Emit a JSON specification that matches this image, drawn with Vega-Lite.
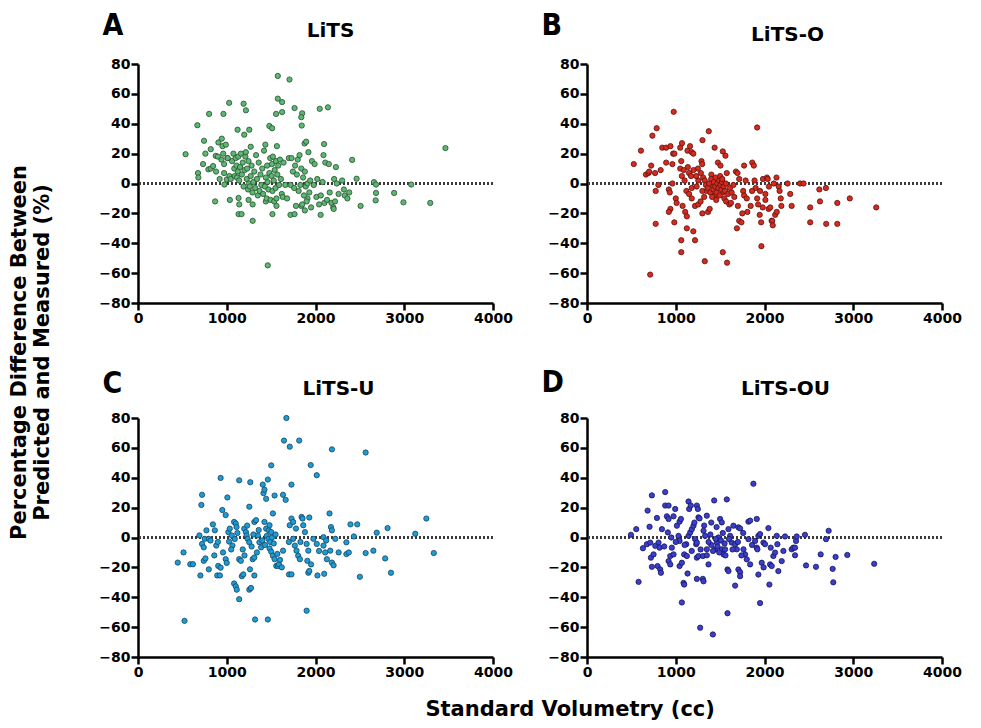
{
"$schema": "https://vega.github.io/schema/vega-lite/v6.json",
"background": "white",
"padding": {"left": 8, "top": 10, "right": 5, "bottom": 5},
"config": {
  "view": {"stroke": null},
  "axis": {"domainColor": "#000", "domainWidth": 2.5, "tickColor": "#000", "tickWidth": 2.5, "tickSize": 7, "labelFont": "DejaVu Sans", "labelFontSize": 14, "labelFontWeight": "bold", "labelColor": "#000", "labelPadding": 1, "grid": false, "labelFlush": false, "labelOverlap": false, "titleFontWeight": "bold", "titleColor": "#000", "titleAngle": 0, "titleBaseline": "alphabetic", "titlePadding": 0},
  "axisX": {"titleFont": "DejaVu Sans", "titleFontSize": 20, "titleAlign": "center", "format": "d"},
  "axisY": {"titleFont": "'Liberation Sans Narrow', 'DejaVu Sans Condensed', sans-serif", "titleFontSize": 30, "titleAlign": "left"}
},
"datasets": {
"lits": [
{"volume":536,"diff":19.6},{"volume":669,"diff":39},{"volume":676,"diff":7},{"volume":680,"diff":4},{"volume":744,"diff":28.6},{"volume":759,"diff":20},{"volume":733,"diff":13},{"volume":801,"diff":46.6},{"volume":820,"diff":23},{"volume":869,"diff":-12},{"volume":876,"diff":18.5},{"volume":793,"diff":9.5},{"volume":820,"diff":10},{"volume":846,"diff":11.7},{"volume":906,"diff":27.5},{"volume":944,"diff":30},{"volume":952,"diff":25},{"volume":963,"diff":46.6},{"volume":990,"diff":26},{"volume":970,"diff":13},{"volume":974,"diff":-0.7},{"volume":970,"diff":7},{"volume":1027,"diff":54},{"volume":1008,"diff":17},{"volume":1001,"diff":2.7},{"volume":1035,"diff":-11},{"volume":1122,"diff":36},{"volume":1133,"diff":-9.7},{"volume":1141,"diff":-14},{"volume":1133,"diff":-20.5},{"volume":1167,"diff":-20.5},{"volume":1190,"diff":53.4},{"volume":1216,"diff":49},{"volume":1197,"diff":32.7},{"volume":1254,"diff":36},{"volume":1246,"diff":-11},{"volume":1292,"diff":-14},{"volume":1292,"diff":-25},{"volume":1270,"diff":24.6},{"volume":1435,"diff":26},{"volume":1462,"diff":-54.8},{"volume":1480,"diff":38.5},{"volume":1511,"diff":37},{"volume":1515,"diff":-20.5},{"volume":1575,"diff":72},{"volume":1575,"diff":56.8},{"volume":1624,"diff":54.5},{"volume":1556,"diff":46.6},{"volume":1624,"diff":47.8},{"volume":1707,"diff":69.6},{"volume":1718,"diff":-21},{"volume":1764,"diff":50.5},{"volume":1764,"diff":-20.5},{"volume":1845,"diff":38.8},{"volume":1850,"diff":47},{"volume":1840,"diff":44.4},{"volume":1877,"diff":26.8},{"volume":1895,"diff":28},{"volume":2048,"diff":50},{"volume":2140,"diff":51},{"volume":2058,"diff":-21},{"volume":2097,"diff":26.4},{"volume":2413,"diff":15.8},{"volume":2463,"diff":3.2},{"volume":2508,"diff":-15},{"volume":2659,"diff":0.9},{"volume":2682,"diff":-0.7},{"volume":2682,"diff":-6.3},{"volume":2678,"diff":-11.3},{"volume":2886,"diff":-6.3},{"volume":2991,"diff":-12.6},{"volume":3078,"diff":-0.7},{"volume":3293,"diff":-13},{"volume":3464,"diff":23.7},{"volume":1565,"diff":25},{"volume":1440,"diff":-12},{"volume":1560,"diff":-15},{"volume":1840,"diff":-15},{"volume":1910,"diff":-10},{"volume":1880,"diff":-18},
{"volume":880,"diff":8},{"volume":920,"diff":3},{"volume":940,"diff":16},{"volume":960,"diff":20},{"volume":900,"diff":18},
{"volume":1010,"diff":17},{"volume":1030,"diff":5},{"volume":1045,"diff":3},{"volume":1060,"diff":15},{"volume":1075,"diff":20},{"volume":1085,"diff":10},{"volume":1090,"diff":5},{"volume":1100,"diff":17},{"volume":1110,"diff":12},{"volume":1115,"diff":4},{"volume":1125,"diff":8},{"volume":1130,"diff":18},{"volume":1140,"diff":2},{"volume":1150,"diff":11},{"volume":1160,"diff":20},{"volume":1170,"diff":6},{"volume":1180,"diff":14},{"volume":1190,"diff":-2},{"volume":1200,"diff":9},{"volume":1210,"diff":18},{"volume":1215,"diff":21},{"volume":1225,"diff":3},{"volume":1230,"diff":10},{"volume":1240,"diff":-4},{"volume":1245,"diff":15},{"volume":1250,"diff":0},
{"volume":1260,"diff":-2},{"volume":1270,"diff":5},{"volume":1280,"diff":12},{"volume":1290,"diff":-6},{"volume":1300,"diff":1},{"volume":1310,"diff":8},{"volume":1320,"diff":-3},{"volume":1330,"diff":19},{"volume":1340,"diff":3},{"volume":1350,"diff":-8},{"volume":1360,"diff":14},{"volume":1370,"diff":-5},{"volume":1380,"diff":6},{"volume":1390,"diff":-1},{"volume":1400,"diff":10},{"volume":1410,"diff":-7},{"volume":1420,"diff":22},{"volume":1430,"diff":-2},{"volume":1440,"diff":4},{"volume":1450,"diff":-10},{"volume":1455,"diff":12},{"volume":1460,"diff":1},{"volume":1470,"diff":-4},{"volume":1480,"diff":7},{"volume":1490,"diff":17},{"volume":1495,"diff":-11},
{"volume":1505,"diff":5},{"volume":1510,"diff":13},{"volume":1515,"diff":-5},{"volume":1520,"diff":18},{"volume":1530,"diff":2},{"volume":1535,"diff":-12},{"volume":1540,"diff":9},{"volume":1550,"diff":-3},{"volume":1555,"diff":15},{"volume":1560,"diff":-10},{"volume":1570,"diff":6},{"volume":1580,"diff":12},{"volume":1590,"diff":-1},{"volume":1600,"diff":16},{"volume":1610,"diff":3},{"volume":1620,"diff":-7},{"volume":1630,"diff":-9},{"volume":1640,"diff":14},{"volume":1660,"diff":-1},{"volume":1680,"diff":-10},{"volume":1700,"diff":17},{"volume":1720,"diff":-1},{"volume":1730,"diff":17},{"volume":1745,"diff":8},
{"volume":1760,"diff":-3},{"volume":1770,"diff":12},{"volume":1780,"diff":-15},{"volume":1790,"diff":6},{"volume":1800,"diff":16},{"volume":1810,"diff":-5},{"volume":1820,"diff":19},{"volume":1830,"diff":-1},{"volume":1840,"diff":10},{"volume":1850,"diff":-14},{"volume":1860,"diff":4},{"volume":1870,"diff":-8},{"volume":1880,"diff":8},{"volume":1890,"diff":-2},{"volume":1900,"diff":-12},{"volume":1910,"diff":0},{"volume":1920,"diff":21},{"volume":1930,"diff":-6},{"volume":1940,"diff":2},{"volume":1950,"diff":-16},{"volume":1960,"diff":15},{"volume":1980,"diff":-1},{"volume":1990,"diff":13},
{"volume":2010,"diff":-9},{"volume":2020,"diff":3},{"volume":2040,"diff":-14},{"volume":2060,"diff":-8},{"volume":2080,"diff":1},{"volume":2090,"diff":19},{"volume":2100,"diff":-13},{"volume":2110,"diff":14},{"volume":2130,"diff":-11},{"volume":2150,"diff":13},{"volume":2160,"diff":-6},{"volume":2180,"diff":-13},{"volume":2200,"diff":-16},{"volume":2205,"diff":-17},{"volume":2210,"diff":3},{"volume":2220,"diff":-12},{"volume":2230,"diff":11},{"volume":2240,"diff":0},{"volume":2260,"diff":-7},{"volume":2300,"diff":2},{"volume":2320,"diff":-4},{"volume":2330,"diff":-8},{"volume":2360,"diff":-10},{"volume":2380,"diff":-6}
],
"litsO": [
{"volume":527,"diff":13},{"volume":608,"diff":22},{"volume":664,"diff":6},{"volume":693,"diff":7},{"volume":700,"diff":8},{"volume":737,"diff":32},{"volume":723,"diff":12},{"volume":774,"diff":-27},{"volume":712,"diff":-61},{"volume":785,"diff":37},{"volume":774,"diff":-5},{"volume":804,"diff":-1},{"volume":767,"diff":7},{"volume":848,"diff":24},{"volume":892,"diff":24},{"volume":830,"diff":9},{"volume":892,"diff":14},{"volume":940,"diff":25},{"volume":922,"diff":-4},{"volume":933,"diff":-6},{"volume":940,"diff":-17},{"volume":922,"diff":-19},{"volume":977,"diff":48},{"volume":970,"diff":20},{"volume":985,"diff":20},{"volume":962,"diff":13},{"volume":962,"diff":0},{"volume":984,"diff":-26},{"volume":1000,"diff":-10},{"volume":1010,"diff":-13},{"volume":1050,"diff":24},{"volume":1070,"diff":27},{"volume":1050,"diff":10},{"volume":1069,"diff":5},{"volume":1062,"diff":15},{"volume":1062,"diff":-38},{"volume":1062,"diff":-46},{"volume":1077,"diff":-15},{"volume":1106,"diff":-19},{"volume":1125,"diff":-22},{"volume":1125,"diff":-30},{"volume":1132,"diff":22},{"volume":1161,"diff":25},{"volume":1180,"diff":21},{"volume":1198,"diff":20},{"volume":1136,"diff":11},{"volume":1150,"diff":7},{"volume":1172,"diff":5},{"volume":1198,"diff":-32},{"volume":1217,"diff":-38},{"volume":1180,"diff":-10},{"volume":1217,"diff":-15},{"volume":1254,"diff":-14},{"volume":1235,"diff":-2},{"volume":1254,"diff":2},{"volume":1283,"diff":7},{"volume":1301,"diff":29},{"volume":1290,"diff":15},{"volume":1298,"diff":13},{"volume":1309,"diff":4},{"volume":1327,"diff":2},{"volume":1346,"diff":-5},{"volume":1327,"diff":-52},{"volume":1364,"diff":-19},{"volume":1382,"diff":-17},{"volume":1372,"diff":35},{"volume":1401,"diff":6},{"volume":1420,"diff":-2},{"volume":1438,"diff":-8},{"volume":1456,"diff":-11},{"volume":1438,"diff":24},{"volume":1475,"diff":14},{"volume":1504,"diff":12},{"volume":1530,"diff":21.5},{"volume":1560,"diff":18.6},{"volume":1530,"diff":-46},{"volume":1578,"diff":-53},{"volume":1512,"diff":-3},{"volume":1530,"diff":-6},{"volume":1548,"diff":-10},{"volume":1567,"diff":-12},{"volume":1604,"diff":-14},{"volume":1622,"diff":-13},{"volume":1678,"diff":8},{"volume":1696,"diff":7},{"volume":1715,"diff":3},{"volume":1689,"diff":-30},{"volume":1715,"diff":-25},{"volume":1740,"diff":-26},{"volume":1770,"diff":12},{"volume":1788,"diff":2},{"volume":1760,"diff":-5},{"volume":1770,"diff":-8},{"volume":1800,"diff":-10},{"volume":1807,"diff":-19},{"volume":1844,"diff":-15},{"volume":1862,"diff":14},{"volume":1880,"diff":12},{"volume":1888,"diff":2},{"volume":1917,"diff":37.5},{"volume":1900,"diff":-3},{"volume":1917,"diff":-10},{"volume":1928,"diff":-14},{"volume":1946,"diff":-21},{"volume":1962,"diff":-26},{"volume":1965,"diff":-42},{"volume":1983,"diff":3},{"volume":2028,"diff":4},{"volume":2036,"diff":3},{"volume":2010,"diff":-7},{"volume":2010,"diff":-11},{"volume":2047,"diff":-17},{"volume":2065,"diff":-16},{"volume":2080,"diff":-25},{"volume":2105,"diff":0},{"volume":2135,"diff":4},{"volume":2087,"diff":-25},{"volume":2093,"diff":-28},{"volume":2120,"diff":-21},{"volume":2138,"diff":-19},{"volume":2160,"diff":-2},{"volume":2170,"diff":-5},{"volume":2183,"diff":-10},{"volume":2190,"diff":-15},{"volume":2260,"diff":0},{"volume":2290,"diff":-7},{"volume":2306,"diff":-15},{"volume":2400,"diff":0},{"volume":2440,"diff":0},{"volume":2515,"diff":-16},{"volume":2515,"diff":-26},{"volume":2618,"diff":-4},{"volume":2625,"diff":-12},{"volume":2692,"diff":-3},{"volume":2695,"diff":-27},{"volume":2820,"diff":-13},{"volume":2820,"diff":-27},{"volume":2961,"diff":-10},{"volume":3259,"diff":-16},
{"volume":1340,"diff":-1},{"volume":1360,"diff":-3},{"volume":1375,"diff":0},{"volume":1390,"diff":-6},{"volume":1400,"diff":3},{"volume":1410,"diff":-9},{"volume":1425,"diff":-4},{"volume":1430,"diff":1},{"volume":1445,"diff":-2},{"volume":1450,"diff":4},{"volume":1460,"diff":-6},{"volume":1470,"diff":0},{"volume":1480,"diff":-3},{"volume":1490,"diff":2},{"volume":1495,"diff":-8},{"volume":1500,"diff":5},{"volume":1505,"diff":-1},{"volume":1515,"diff":-4},{"volume":1520,"diff":1},{"volume":1525,"diff":3},{"volume":1540,"diff":-2},{"volume":1555,"diff":-5},{"volume":1565,"diff":0},{"volume":1575,"diff":7},{"volume":1590,"diff":-7},{"volume":1610,"diff":-3},{"volume":1630,"diff":-6},{"volume":1650,"diff":-1},{"volume":1660,"diff":-9},{"volume":1280,"diff":-12},{"volume":1300,"diff":-5},{"volume":1320,"diff":-9},{"volume":1250,"diff":10},{"volume":1230,"diff":5},{"volume":1200,"diff":9},{"volume":1180,"diff":-3},{"volume":1100,"diff":2},{"volume":1090,"diff":9},{"volume":1120,"diff":-5},{"volume":1150,"diff":-7},{"volume":1300,"diff":-20},{"volume":1700,"diff":-15},{"volume":1750,"diff":-20},{"volume":1860,"diff":-5},{"volume":1950,"diff":-5},{"volume":1980,"diff":-16},{"volume":2050,"diff":-2}
],
"litsU": [
{"volume":448,"diff":-16.8},{"volume":513,"diff":-10},{"volume":524,"diff":-55.8},{"volume":589,"diff":-17.9},{"volume":619,"diff":-17.9},{"volume":692,"diff":1.4},{"volume":703,"diff":-25.4},{"volume":722,"diff":28.6},{"volume":714,"diff":21.8},{"volume":722,"diff":-4.3},{"volume":741,"diff":-6.6},{"volume":752,"diff":-0.9},{"volume":771,"diff":4.8},{"volume":741,"diff":-15.6},{"volume":760,"diff":-14},{"volume":798,"diff":-21.3},{"volume":798,"diff":-0.9},{"volume":817,"diff":-2},{"volume":844,"diff":8.8},{"volume":866,"diff":4.8},{"volume":882,"diff":-5.4},{"volume":893,"diff":-25.4},{"volume":923,"diff":-25.4},{"volume":904,"diff":-19},{"volume":931,"diff":-20.2},{"volume":931,"diff":39.9},{"volume":950,"diff":18.4},{"volume":958,"diff":-10},{"volume":988,"diff":-14.5},{"volume":988,"diff":15},{"volume":1007,"diff":26.8},{"volume":1018,"diff":3.6},{"volume":1034,"diff":5.9},{"volume":1056,"diff":1.4},{"volume":1026,"diff":-2.7},{"volume":1064,"diff":-5.4},{"volume":1083,"diff":10.4},{"volume":1102,"diff":9.3},{"volume":1110,"diff":7},{"volume":1083,"diff":-30.8},{"volume":1102,"diff":-32.7},{"volume":1113,"diff":-34.9},{"volume":1140,"diff":38.3},{"volume":1140,"diff":-41.3},{"volume":1140,"diff":-14.5},{"volume":1159,"diff":-15.6},{"volume":1170,"diff":-25.9},{"volume":1186,"diff":-24.7},{"volume":1197,"diff":5.9},{"volume":1216,"diff":3.6},{"volume":1224,"diff":1.4},{"volume":1254,"diff":20.6},{"volume":1265,"diff":37},{"volume":1235,"diff":-0.9},{"volume":1254,"diff":-3.2},{"volume":1254,"diff":-34.9},{"volume":1273,"diff":-33.8},{"volume":1262,"diff":-21.3},{"volume":1292,"diff":-14.5},{"volume":1311,"diff":-13.4},{"volume":1311,"diff":10.4},{"volume":1330,"diff":11.6},{"volume":1319,"diff":-54.9},{"volume":1311,"diff":-25.4},{"volume":1349,"diff":1.4},{"volume":1368,"diff":-3.2},{"volume":1387,"diff":-6.6},{"volume":1406,"diff":35.4},{"volume":1414,"diff":29.7},{"volume":1425,"diff":32},{"volume":1444,"diff":25.9},{"volume":1463,"diff":38.8},{"volume":1463,"diff":-54.9},{"volume":1425,"diff":10.4},{"volume":1444,"diff":5.9},{"volume":1474,"diff":4.8},{"volume":1482,"diff":8.2},{"volume":1501,"diff":3.6},{"volume":1482,"diff":-7.3},{"volume":1501,"diff":-9.5},{"volume":1520,"diff":-12.2},{"volume":1539,"diff":-14.5},{"volume":1558,"diff":-19},{"volume":1501,"diff":48.3},{"volume":1520,"diff":16.1},{"volume":1539,"diff":28.1},{"volume":1577,"diff":-19},{"volume":1588,"diff":-17.9},{"volume":1634,"diff":28.6},{"volume":1664,"diff":25.2},{"volume":1634,"diff":-8.8},{"volume":1672,"diff":80},{"volume":1645,"diff":64.9},{"volume":1710,"diff":60.8},{"volume":1729,"diff":35.4},{"volume":1702,"diff":-24.7},{"volume":1729,"diff":-24.7},{"volume":1710,"diff":8.2},{"volume":1729,"diff":12.7},{"volume":1748,"diff":10.4},{"volume":1748,"diff":-0.9},{"volume":1767,"diff":-5.4},{"volume":1786,"diff":-8.8},{"volume":1816,"diff":64.9},{"volume":1805,"diff":-12.2},{"volume":1824,"diff":-14.5},{"volume":1843,"diff":13.8},{"volume":1854,"diff":12.7},{"volume":1862,"diff":8.2},{"volume":1881,"diff":3.6},{"volume":1900,"diff":-49},{"volume":1900,"diff":-4.3},{"volume":1919,"diff":-8.8},{"volume":1908,"diff":-15.6},{"volume":1919,"diff":-23.6},{"volume":1930,"diff":-22.4},{"volume":1930,"diff":13.4},{"volume":1946,"diff":48.5},{"volume":2014,"diff":41.7},{"volume":1976,"diff":-0.9},{"volume":2014,"diff":-4.3},{"volume":2022,"diff":-25.4},{"volume":2090,"diff":0.2},{"volume":2090,"diff":-5.4},{"volume":2109,"diff":-10},{"volume":2128,"diff":-14.5},{"volume":2098,"diff":-24.3},{"volume":2158,"diff":16.1},{"volume":2185,"diff":59},{"volume":2174,"diff":7},{"volume":2185,"diff":4.8},{"volume":2166,"diff":-8.8},{"volume":2185,"diff":-16.8},{"volume":2204,"diff":-18.6},{"volume":2223,"diff":-0.9},{"volume":2261,"diff":-10},{"volume":2348,"diff":-3.2},{"volume":2348,"diff":-11.1},{"volume":2375,"diff":-10},{"volume":2394,"diff":8.8},{"volume":2470,"diff":8.8},{"volume":2432,"diff":0.7},{"volume":2500,"diff":-26.3},{"volume":2565,"diff":56.9},{"volume":2565,"diff":-10.4},{"volume":2652,"diff":-8.8},{"volume":2690,"diff":3.2},{"volume":2785,"diff":-14},{"volume":2812,"diff":6.3},{"volume":2850,"diff":-23.6},{"volume":3124,"diff":2.5},{"volume":3249,"diff":12.7},{"volume":3333,"diff":-10.4},
{"volume":1050,"diff":-8},{"volume":1090,"diff":-1},{"volume":1120,"diff":3},{"volume":1180,"diff":-8},{"volume":1200,"diff":-12},{"volume":1230,"diff":8},{"volume":1280,"diff":-6},{"volume":1300,"diff":2},{"volume":1340,"diff":-10},{"volume":1360,"diff":5},{"volume":1400,"diff":-2},{"volume":1430,"diff":-5},{"volume":1450,"diff":1},{"volume":1470,"diff":-1},{"volume":1490,"diff":-3},{"volume":1510,"diff":0},{"volume":1530,"diff":-4},{"volume":1550,"diff":2},{"volume":1570,"diff":-11},{"volume":1600,"diff":-15},{"volume":1620,"diff":-20},{"volume":1700,"diff":-3},{"volume":1780,"diff":6},{"volume":1830,"diff":-3},{"volume":1950,"diff":-18},{"volume":2040,"diff":-9},{"volume":2120,"diff":-2},{"volume":860,"diff":-12},{"volume":900,"diff":-3},{"volume":1000,"diff":-17}
],
"litsOU": [
{"volume":495,"diff":1.8},{"volume":555,"diff":5.6},{"volume":581,"diff":-29.7},{"volume":630,"diff":-7.2},{"volume":675,"diff":-4.5},{"volume":713,"diff":-3.4},{"volume":683,"diff":18},{"volume":705,"diff":7.2},{"volume":731,"diff":28.2},{"volume":720,"diff":-13.5},{"volume":731,"diff":-19.6},{"volume":750,"diff":-11.3},{"volume":769,"diff":-5.6},{"volume":788,"diff":13.1},{"volume":795,"diff":-19.1},{"volume":825,"diff":-21.4},{"volume":806,"diff":-3.4},{"volume":818,"diff":-6.8},{"volume":833,"diff":-23.6},{"volume":844,"diff":5.6},{"volume":881,"diff":30.4},{"volume":881,"diff":21.4},{"volume":919,"diff":21.4},{"volume":900,"diff":14.2},{"volume":919,"diff":12.4},{"volume":911,"diff":3.4},{"volume":919,"diff":-15.8},{"volume":938,"diff":-18},{"volume":938,"diff":-12.4},{"volume":956,"diff":-6.8},{"volume":975,"diff":-11.3},{"volume":975,"diff":14.2},{"volume":994,"diff":19.1},{"volume":1013,"diff":7.9},{"volume":1043,"diff":10.6},{"volume":1058,"diff":12.4},{"volume":1031,"diff":1.1},{"volume":1043,"diff":-2.3},{"volume":1043,"diff":-19.1},{"volume":1069,"diff":-16.9},{"volume":1069,"diff":-43.5},{"volume":1088,"diff":-30.4},{"volume":1095,"diff":-31.5},{"volume":1095,"diff":-11.3},{"volume":1125,"diff":-12.4},{"volume":1118,"diff":-4.5},{"volume":1144,"diff":1.1},{"volume":1163,"diff":3.4},{"volume":1133,"diff":-24.1},{"volume":1144,"diff":24.1},{"volume":1151,"diff":19.1},{"volume":1170,"diff":21.4},{"volume":1181,"diff":5.6},{"volume":1200,"diff":7.9},{"volume":1219,"diff":-1.1},{"volume":1230,"diff":-4.5},{"volume":1238,"diff":-3.4},{"volume":1238,"diff":21.4},{"volume":1249,"diff":19.1},{"volume":1256,"diff":13.5},{"volume":1268,"diff":12.8},{"volume":1238,"diff":-13.5},{"volume":1256,"diff":-12.4},{"volume":1305,"diff":-12.4},{"volume":1238,"diff":-27.7},{"volume":1275,"diff":-60.4},{"volume":1305,"diff":-27.7},{"volume":1313,"diff":-29.3},{"volume":1313,"diff":4.5},{"volume":1331,"diff":1.1},{"volume":1350,"diff":-7.9},{"volume":1350,"diff":-11.9},{"volume":1350,"diff":14.6},{"volume":1369,"diff":-18},{"volume":1418,"diff":-64.9},{"volume":1433,"diff":24.8},{"volume":1444,"diff":-7.9},{"volume":1463,"diff":-3.4},{"volume":1481,"diff":0},{"volume":1500,"diff":12.4},{"volume":1519,"diff":10.1},{"volume":1519,"diff":-7.9},{"volume":1538,"diff":-11.3},{"volume":1556,"diff":-7.9},{"volume":1575,"diff":25.5},{"volume":1583,"diff":-21.4},{"volume":1594,"diff":-22.5},{"volume":1583,"diff":-50.7},{"volume":1594,"diff":5.6},{"volume":1613,"diff":1.1},{"volume":1631,"diff":-3.4},{"volume":1650,"diff":7.9},{"volume":1669,"diff":-4.5},{"volume":1669,"diff":-32.2},{"volume":1706,"diff":6.8},{"volume":1725,"diff":6.1},{"volume":1688,"diff":-7.9},{"volume":1706,"diff":-21.4},{"volume":1725,"diff":-23.2},{"volume":1725,"diff":-25.9},{"volume":1763,"diff":-7.9},{"volume":1781,"diff":-11.3},{"volume":1800,"diff":-14.6},{"volume":1819,"diff":10.6},{"volume":1838,"diff":11.3},{"volume":1819,"diff":-1.1},{"volume":1838,"diff":-18},{"volume":1875,"diff":36},{"volume":1894,"diff":-2.3},{"volume":1913,"diff":-6.8},{"volume":1920,"diff":-7.9},{"volume":1913,"diff":12.4},{"volume":1931,"diff":1.1},{"volume":1950,"diff":2.3},{"volume":1931,"diff":-24.8},{"volume":1950,"diff":-43.9},{"volume":1969,"diff":-16.9},{"volume":1988,"diff":-3.4},{"volume":2006,"diff":-4.5},{"volume":2044,"diff":6.3},{"volume":2055,"diff":-31.5},{"volume":2063,"diff":-18},{"volume":2081,"diff":-19.1},{"volume":2070,"diff":-6.8},{"volume":2100,"diff":-12.4},{"volume":2119,"diff":-10.1},{"volume":2138,"diff":1.1},{"volume":2145,"diff":-4.5},{"volume":2156,"diff":-22.5},{"volume":2194,"diff":-15.8},{"volume":2213,"diff":-9},{"volume":2231,"diff":0.7},{"volume":2306,"diff":-7.9},{"volume":2325,"diff":-6.8},{"volume":2344,"diff":-6.8},{"volume":2344,"diff":-11.9},{"volume":2355,"diff":-2.3},{"volume":2363,"diff":0.7},{"volume":2456,"diff":1.8},{"volume":2468,"diff":-18.7},{"volume":2580,"diff":-19.6},{"volume":2633,"diff":-11.3},{"volume":2693,"diff":-1.1},{"volume":2723,"diff":4.5},{"volume":2768,"diff":-21},{"volume":2775,"diff":-30},{"volume":2801,"diff":-13},{"volume":2933,"diff":-11.7},{"volume":3236,"diff":-17.6},
{"volume":1400,"diff":-5},{"volume":1420,"diff":-9},{"volume":1450,"diff":-1},{"volume":1470,"diff":-6},{"volume":1490,"diff":-10},{"volume":1510,"diff":-2},{"volume":1530,"diff":3},{"volume":1550,"diff":-4},{"volume":1560,"diff":-12},{"volume":1600,"diff":-1},{"volume":1640,"diff":-8},{"volume":1700,"diff":-3},{"volume":1740,"diff":-12},{"volume":1760,"diff":3},{"volume":1860,"diff":-5},{"volume":1990,"diff":-20},{"volume":1370,"diff":-3},{"volume":1390,"diff":2},{"volume":1280,"diff":-8},{"volume":1180,"diff":-9},{"volume":1100,"diff":-5},{"volume":1000,"diff":-3},{"volume":950,"diff":0},{"volume":870,"diff":-6},{"volume":1210,"diff":10},{"volume":1320,"diff":8},{"volume":1400,"diff":10},{"volume":1460,"diff":7}
]
},
"title": {"text": "Standard Volumetry (cc)", "orient": "bottom", "anchor": "middle", "font": "DejaVu Sans", "fontSize": 21, "fontWeight": "bold", "color": "#000", "offset": 20, "dx": 85},
"vconcat": [{
  "title": {"text": ["Percentage Difference Between", "Predicted and  Measured (%)"], "orient": "left", "anchor": "middle", "font": "DejaVu Sans", "fontSize": 21, "fontWeight": "bold", "color": "#000", "offset": 46, "lineHeight": 23, "dx": -8},
  "columns": 2,
  "spacing": {"row": 115, "column": 94},
  "bounds": "flush",
  "concat": [
      {"width": 355, "height": 239, "data": {"name": "lits"},
       "layer": [
        {"mark": {"type": "rule", "strokeDash": [2, 2], "strokeWidth": 2, "color": "#3a3a3a"},
         "encoding": {"y": {"datum": 0, "type": "quantitative", "scale": {"domain": [-80, 80], "nice": false}, "axis": {"values": [-80, -60, -40, -20, 0, 20, 40, 60, 80], "title": "A", "titleX": -36, "titleY": -30}}}},
        {"mark": {"type": "point", "filled": true, "fill": "#5cb870", "stroke": "#2a4d33", "strokeWidth": 0.8, "size": 28, "opacity": 1},
         "encoding": {
          "x": {"field": "volume", "type": "quantitative", "scale": {"domain": [0, 4000], "nice": false}, "axis": {"values": [0, 1000, 2000, 3000, 4000], "title": "LiTS", "titleX": 192, "titleY": -267}},
          "y": {"field": "diff", "type": "quantitative", "scale": {"domain": [-80, 80], "nice": false}, "axis": {"values": [-80, -60, -40, -20, 0, 20, 40, 60, 80], "title": "A", "titleX": -36, "titleY": -30}}}}
       ]},
      {"width": 355, "height": 239, "data": {"name": "litsO"},
       "layer": [
        {"mark": {"type": "rule", "strokeDash": [2, 2], "strokeWidth": 2, "color": "#3a3a3a"},
         "encoding": {"y": {"datum": 0, "type": "quantitative", "scale": {"domain": [-80, 80], "nice": false}, "axis": {"values": [-80, -60, -40, -20, 0, 20, 40, 60, 80], "title": "B", "titleX": -46, "titleY": -30}}}},
        {"mark": {"type": "point", "filled": true, "fill": "#d52a1d", "stroke": "#5a1410", "strokeWidth": 0.8, "size": 28, "opacity": 1},
         "encoding": {
          "x": {"field": "volume", "type": "quantitative", "scale": {"domain": [0, 4000], "nice": false}, "axis": {"values": [0, 1000, 2000, 3000, 4000], "title": "LiTS-O", "titleX": 200, "titleY": -263}},
          "y": {"field": "diff", "type": "quantitative", "scale": {"domain": [-80, 80], "nice": false}, "axis": {"values": [-80, -60, -40, -20, 0, 20, 40, 60, 80], "title": "B", "titleX": -46, "titleY": -30}}}}
       ]},
      {"width": 355, "height": 239, "data": {"name": "litsU"},
       "layer": [
        {"mark": {"type": "rule", "strokeDash": [2, 2], "strokeWidth": 2, "color": "#3a3a3a"},
         "encoding": {"y": {"datum": 0, "type": "quantitative", "scale": {"domain": [-80, 80], "nice": false}, "axis": {"values": [-80, -60, -40, -20, 0, 20, 40, 60, 80], "title": "C", "titleX": -36, "titleY": -26}}}},
        {"mark": {"type": "point", "filled": true, "fill": "#1e9ad5", "stroke": "#16465e", "strokeWidth": 0.8, "size": 28, "opacity": 1},
         "encoding": {
          "x": {"field": "volume", "type": "quantitative", "scale": {"domain": [0, 4000], "nice": false}, "axis": {"values": [0, 1000, 2000, 3000, 4000], "title": "LiTS-U", "titleX": 200, "titleY": -263}},
          "y": {"field": "diff", "type": "quantitative", "scale": {"domain": [-80, 80], "nice": false}, "axis": {"values": [-80, -60, -40, -20, 0, 20, 40, 60, 80], "title": "C", "titleX": -36, "titleY": -26}}}}
       ]},
      {"width": 355, "height": 239, "data": {"name": "litsOU"},
       "layer": [
        {"mark": {"type": "rule", "strokeDash": [2, 2], "strokeWidth": 2, "color": "#3a3a3a"},
         "encoding": {"y": {"datum": 0, "type": "quantitative", "scale": {"domain": [-80, 80], "nice": false}, "axis": {"values": [-80, -60, -40, -20, 0, 20, 40, 60, 80], "title": "D", "titleX": -46, "titleY": -27}}}},
        {"mark": {"type": "point", "filled": true, "fill": "#3a3ecc", "stroke": "#15155a", "strokeWidth": 0.8, "size": 28, "opacity": 1},
         "encoding": {
          "x": {"field": "volume", "type": "quantitative", "scale": {"domain": [0, 4000], "nice": false}, "axis": {"values": [0, 1000, 2000, 3000, 4000], "title": "LiTS-OU", "titleX": 198, "titleY": -263}},
          "y": {"field": "diff", "type": "quantitative", "scale": {"domain": [-80, 80], "nice": false}, "axis": {"values": [-80, -60, -40, -20, 0, 20, 40, 60, 80], "title": "D", "titleX": -46, "titleY": -27}}}}
       ]}
  ]
}]
}
